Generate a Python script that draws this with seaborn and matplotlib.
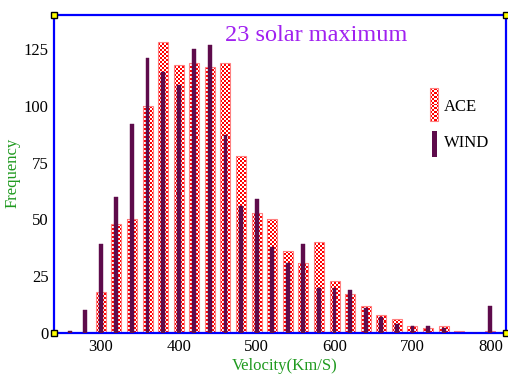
import numpy as np
import pandas as pd
import matplotlib
matplotlib.use("Agg")
import matplotlib.pyplot as plt
import seaborn as sns
from matplotlib.patches import Rectangle

# Solar wind speed histograms (bin centres in km/s) for solar cycle 23 maximum
velocity = [260, 280, 300, 320, 340, 360, 380, 400, 420, 440, 460, 480, 500, 520,
            540, 560, 580, 600, 620, 640, 660, 680, 700, 720, 740, 760, 780, 800]
ace_counts = [0, 0, 18, 48, 50, 100, 128, 118, 119, 117, 119, 78, 53, 50,
              36, 31, 40, 23, 17, 12, 8, 6, 3, 2, 3, 1, 0, 1]
wind_counts = [1, 10, 39, 60, 92, 121, 115, 109, 125, 127, 87, 56, 59, 38,
               31, 39, 20, 20, 19, 11, 7, 4, 3, 3, 2, 0, 0, 12]
x_ticks = [300, 400, 500, 600, 700, 800]
y_ticks = [0, 25, 50, 75, 100, 125]
title_text = "23 solar maximum"
series_names = ["ACE", "WIND"]

df = pd.DataFrame({"velocity": velocity, "ACE": ace_counts, "WIND": wind_counts})

sns.set_theme(style="white")
plt.rcParams["font.family"] = ["Liberation Serif", "DejaVu Serif"]

XLIM = (240, 820)
YLIM = (0, 140)
ACE_RED = "#ff0000"
ACE_EDGE = "#ff8080"
WIND_COLOR = "#5e0b4b"
BLUE = "#0000ff"
GREEN = "#1f9a1f"
PURPLE = "#a020f0"

fig = plt.figure(figsize=(5.08, 3.76), dpi=100)
ax = fig.add_axes([54 / 508, 43 / 376, 452 / 508, 318 / 376])

# ACE: wide bars, later filled with a red/white checker pattern
sns.barplot(data=df, x="velocity", y="ACE", native_scale=True, width=0.64,
            color=ACE_RED, errorbar=None, ax=ax)
ace_patches = list(ax.patches)
# WIND: narrow solid bars on top
sns.barplot(data=df, x="velocity", y="WIND", native_scale=True, width=0.25,
            color=WIND_COLOR, errorbar=None, ax=ax)
wind_patches = [p for p in ax.patches if p not in ace_patches]

ax.set_xlim(*XLIM)
ax.set_ylim(*YLIM)

# checkerboard texture (2 px cells)
ax_w_px, ax_h_px = 452, 318
ny, nx = ax_h_px // 2, ax_w_px // 2
cells = np.indices((ny, nx)).sum(axis=0) % 2
checker = np.where(cells[..., None] == 0, [1.0, 0.0, 0.0], [1.0, 1.0, 1.0])

for p in ace_patches:
    im = ax.imshow(checker, extent=(XLIM[0], XLIM[1], YLIM[0], YLIM[1]),
                   origin="lower", interpolation="nearest", aspect="auto", zorder=1.5)
    im.set_clip_path(p)
    p.set_facecolor("none")
    p.set_edgecolor(ACE_EDGE)
    p.set_linewidth(0.8)
    p.set_zorder(2)

for p in wind_patches:
    p.set_facecolor(WIND_COLOR)
    p.set_edgecolor(WIND_COLOR)
    p.set_linewidth(0.3)
    p.set_zorder(3)

ax.set_xlim(*XLIM)
ax.set_ylim(*YLIM)
ax.set_xticks(x_ticks)
ax.set_yticks(y_ticks)
ax.tick_params(axis="both", length=0, labelsize=12, labelcolor="black", pad=4)

for s in ax.spines.values():
    s.set_color(BLUE)
    s.set_linewidth(1.6)
    s.set_visible(True)

ax.set_xlabel("Velocity(Km/S)", color=GREEN, fontsize=12)
ax.set_ylabel("Frequency", color=GREEN, fontsize=12)
ax.xaxis.set_label_coords(0.511, -0.078)
ax.yaxis.set_label_coords(-0.073, 0.503)

ax.text(0.579, 0.937, title_text, transform=ax.transAxes, ha="center", va="center",
        color=PURPLE, fontsize=17.5)

# legend entries
ace_key = Rectangle((0.832, 0.667), 0.018, 0.103, transform=ax.transAxes,
                    facecolor="none", edgecolor=ACE_EDGE, linewidth=0.8, zorder=5,
                    clip_on=False)
ax.add_patch(ace_key)
key_img = ax.imshow(checker[:17, :4], extent=(0.832, 0.850, 0.667, 0.770),
                    transform=ax.transAxes, origin="lower", interpolation="nearest",
                    aspect="auto", zorder=4)
key_img.set_clip_path(ace_key)
ax.add_patch(Rectangle((0.836, 0.553), 0.011, 0.082, transform=ax.transAxes,
                       facecolor=WIND_COLOR, edgecolor="none", zorder=5))
ax.text(0.863, 0.711, series_names[0], transform=ax.transAxes, ha="left", va="center",
        fontsize=12, color="black")
ax.text(0.863, 0.597, series_names[1], transform=ax.transAxes, ha="left", va="center",
        fontsize=12, color="black")

ax.set_xlim(*XLIM)
ax.set_ylim(*YLIM)

# small square handles at the frame corners
ax.plot([0, 1, 0, 1], [0, 0, 1, 1], "s", transform=ax.transAxes, ms=4,
        mfc="yellow", mec="black", mew=1.0, clip_on=False, zorder=10)

fig.savefig("out.png", dpi=100)
